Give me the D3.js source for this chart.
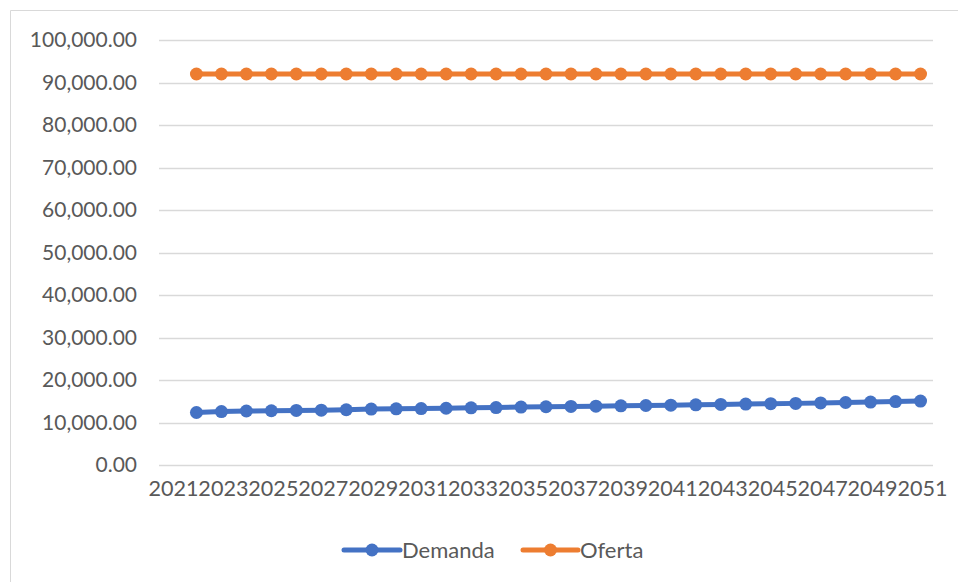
<!DOCTYPE html>
<html>
<head>
<meta charset="utf-8">
<script src="https://cdn.jsdelivr.net/npm/d3@7"></script>
<style>
  html, body { margin: 0; padding: 0; background: #fff; }
  svg { display: block; }
  text { font-family: Lato, "Open Sans", sans-serif; fill: #595959; }
</style>
</head>
<body>
<svg id="chart" width="958" height="582"></svg>
<script>
// ---- data ----
const years = ["2021","2022","2023","2024","2025","2026","2027","2028","2029","2030",
               "2031","2032","2033","2034","2035","2036","2037","2038","2039","2040",
               "2041","2042","2043","2044","2045","2046","2047","2048","2049","2050","2051"];
const demanda = [null, 12350, 12580, 12700, 12760, 12850, 12900, 13000, 13150, 13220,
                 13280, 13350, 13450, 13520, 13620, 13700, 13780, 13850, 13920, 14000,
                 14080, 14160, 14250, 14340, 14420, 14500, 14600, 14700, 14800, 14920, 15050];
const oferta = [null, 92000, 92000, 92000, 92000, 92000, 92000, 92000, 92000, 92000,
                92000, 92000, 92000, 92000, 92000, 92000, 92000, 92000, 92000, 92000,
                92000, 92000, 92000, 92000, 92000, 92000, 92000, 92000, 92000, 92000, 92000];
const yTicks = [0, 10000, 20000, 30000, 40000, 50000, 60000, 70000, 80000, 90000, 100000];
const xTickLabels = years.filter((d, i) => i % 2 === 0);
const seriesNames = ["Demanda", "Oferta"];
const seriesColors = ["#4472C4", "#ED7D31"];

// ---- layout ----
const svg = d3.select("#chart");
const plot = { left: 159, right: 933, top: 40, bottom: 465 };

// chart border (top & left visible)
svg.append("path")
  .attr("d", "M10.5,582 L10.5,10.5 L958,10.5")
  .attr("fill", "none").attr("stroke", "#D9D9D9").attr("stroke-width", 1);

const x = d3.scaleBand().domain(years).range([plot.left, plot.right]).paddingInner(0).paddingOuter(0);
const cx = d => x(d) + x.bandwidth() / 2;
const y = d3.scaleLinear().domain([0, 100000]).range([plot.bottom, plot.top]);

// gridlines
svg.append("g").selectAll("line").data(yTicks).join("line")
  .attr("x1", plot.left).attr("x2", plot.right)
  .attr("y1", d => Math.round(y(d)) + 0.5).attr("y2", d => Math.round(y(d)) + 0.5)
  .attr("stroke", "#D9D9D9").attr("stroke-width", 1.5);

// y axis labels
const yAxis = d3.axisLeft(y).tickValues(yTicks).tickFormat(d3.format(",.2f")).tickSize(0).tickPadding(22);
const gy = svg.append("g").attr("transform", `translate(${plot.left},0)`).call(yAxis);
gy.select(".domain").remove();
gy.selectAll("text").style("font-size", "21px").attr("fill", "#595959")
  .style("font-family", "Lato, 'Open Sans', sans-serif");

// x axis labels
const xAxis = d3.axisBottom(x).tickValues(xTickLabels).tickSize(0).tickPadding(16);
const gx = svg.append("g").attr("transform", `translate(2,${plot.bottom})`).call(xAxis);
gx.select(".domain").remove();
gx.selectAll("text").style("font-size", "21.6px").attr("fill", "#595959")
  .style("font-family", "Lato, 'Open Sans', sans-serif");

// series
const allSeries = [demanda, oferta];
allSeries.forEach((vals, si) => {
  const pts = years.map((yr, i) => ({ yr, v: vals[i] }));
  const line = d3.line().defined(d => d.v != null).x(d => cx(d.yr)).y(d => y(d.v));
  svg.append("path").datum(pts)
    .attr("d", line).attr("fill", "none")
    .attr("stroke", seriesColors[si]).attr("stroke-width", 5)
    .attr("stroke-linejoin", "round").attr("stroke-linecap", "round");
  svg.append("g").selectAll("circle").data(pts.filter(d => d.v != null)).join("circle")
    .attr("cx", d => cx(d.yr)).attr("cy", d => y(d.v)).attr("r", 6.5)
    .attr("fill", seriesColors[si]);
});

// legend
const legendItems = [
  { x0: 344, x1: 400, tx: 402 },
  { x0: 523, x1: 578, tx: 580 }
];
const ly = 550;
legendItems.forEach((it, i) => {
  const g = svg.append("g");
  g.append("line").attr("x1", it.x0).attr("x2", it.x1).attr("y1", ly).attr("y2", ly)
    .attr("stroke", seriesColors[i]).attr("stroke-width", 5).attr("stroke-linecap", "round");
  g.append("circle").attr("cx", (it.x0 + it.x1) / 2).attr("cy", ly).attr("r", 6.5).attr("fill", seriesColors[i]);
  g.append("text").attr("x", it.tx).attr("y", ly).attr("dy", "0.35em")
    .style("font-size", "22px").text(seriesNames[i]);
});
</script>
</body>
</html>
